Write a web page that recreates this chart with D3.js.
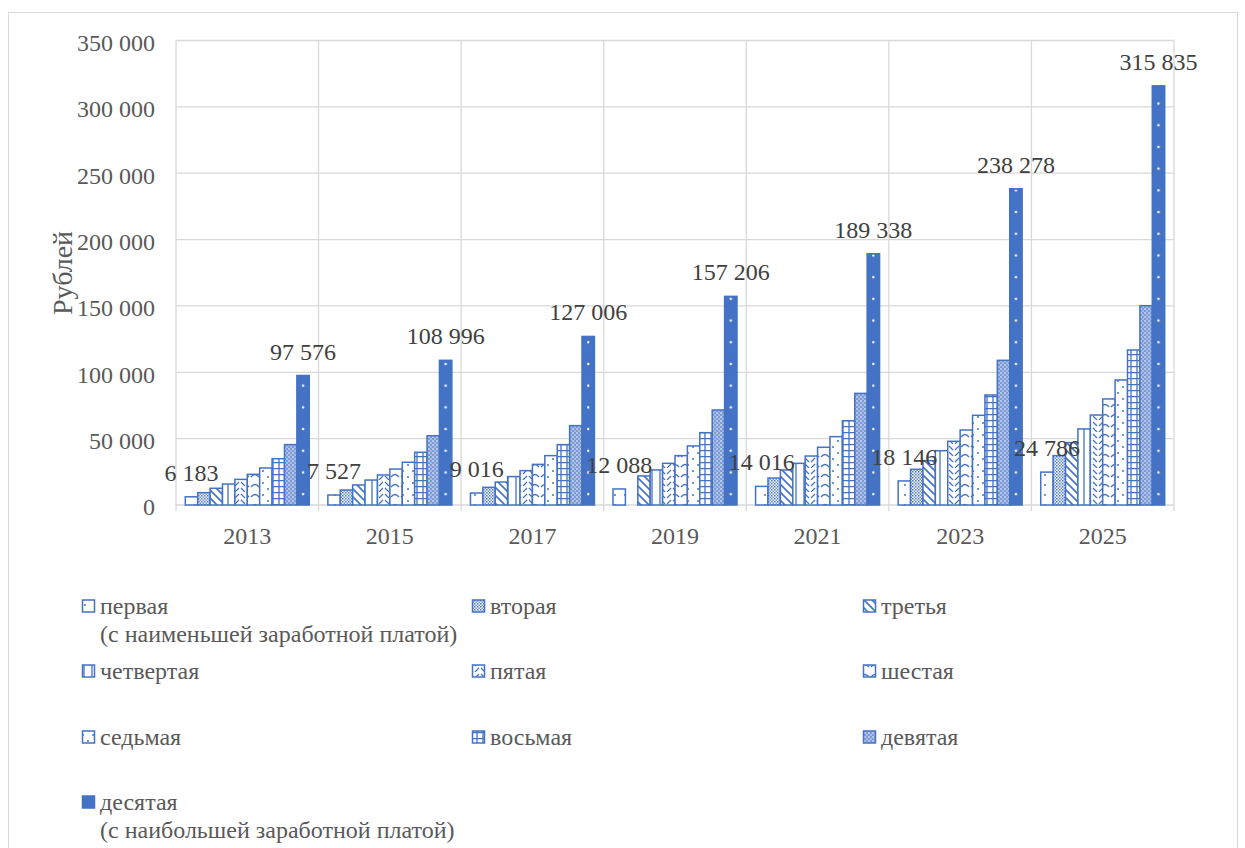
<!DOCTYPE html>
<html><head><meta charset="utf-8">
<script src="https://cdn.jsdelivr.net/npm/d3@7"></script>
<style>body{margin:0;background:#fff}svg{display:block}text{font-family:"Liberation Serif","Times New Roman",serif}</style>
</head><body><svg id="c" width="1245" height="848"></svg>
<script>
const years = ["2013","2015","2017","2019","2021","2023","2025"];
const seriesNames = ["первая","вторая","третья","четвертая","пятая","шестая","седьмая","восьмая","девятая","десятая"];
const dec1  = [6183, 7527, 9016, 12088, 14016, 18146, 24786];
const dec2  = [9300, 11300, 13300, null, 20300, 26900, 37200];
const dec3  = [12600, 15100, 17300, 21900, 26400, 33400, 47000];
const dec4  = [15800, 18800, 21400, 26400, 31400, 40900, 57300];
const dec5  = [19300, 22600, 25900, 31400, 36900, 48000, 67800];
const dec6  = [23100, 27100, 30600, 37200, 43500, 56500, 79900];
const dec7  = [27900, 32200, 37200, 44500, 51500, 67600, 94200];
const dec8  = [34900, 39700, 45500, 54500, 63500, 82900, 116800];
const dec9  = [45500, 52200, 59800, 71600, 84100, 109000, 150200];
const dec10 = [97576, 108996, 127006, 157206, 189338, 238278, 315835];
const seriesValues = [dec1,dec2,dec3,dec4,dec5,dec6,dec7,dec8,dec9,dec10];
const legendExtra = {0:"(с наименьшей заработной платой)", 9:"(с наибольшей заработной платой)"};
const yTicks = [0,50000,100000,150000,200000,250000,300000,350000];

const BLUE = "#4472C4";
const FONT = "'Liberation Serif','Times New Roman',serif";
const svg = d3.select("#c");
svg.append("rect").attr("width",1245).attr("height",848).attr("fill","#fff");
svg.append("rect").attr("x",8.5).attr("y",12.5).attr("width",1229).attr("height",860)
  .attr("fill","none").attr("stroke","#d9d9d9").attr("stroke-width",1);

const L=176, R=1174, T=40.5, B=505;
const x0 = d3.scaleBand().domain(years).range([L,R]).padding(0);
const x1 = d3.scaleBand().domain(d3.range(10)).range([0,x0.bandwidth()]).paddingInner(0).paddingOuter(0.75);
const y = d3.scaleLinear().domain([0,350000]).range([B,T]);
const loc = d3.formatLocale({decimal:",",thousands:"\u00a0",grouping:[3],currency:["",""]});
const fmt = loc.format(",d");

// patterns
const defs = svg.append("defs");
function pat(id,w,h,draw,bg="#fff",ox=0,oy=0){
  const p = defs.append("pattern").attr("id",id).attr("patternUnits","userSpaceOnUse")
    .attr("width",w).attr("height",h).attr("x",ox).attr("y",oy);
  p.append("rect").attr("width",w).attr("height",h).attr("fill",bg);
  draw(p); return p;
}
pat("p0",10,10,p=>p.append("circle").attr("cx",5).attr("cy",5).attr("r",1).attr("fill",BLUE));
pat("p1",3,3,p=>{p.append("rect").attr("width",1.5).attr("height",1.5).attr("fill",BLUE);
  p.append("rect").attr("x",1.5).attr("y",1.5).attr("width",1.5).attr("height",1.5).attr("fill","#6f8fd0");});
pat("p2",8,8,p=>{p.append("path").attr("d","M-2,-2L10,10M-2,6L2,10M6,-2L10,2").attr("stroke",BLUE).attr("stroke-width",1.6);});
pat("p3",8,8,p=>p.append("line").attr("x1",4).attr("x2",4).attr("y1",0).attr("y2",8).attr("stroke",BLUE).attr("stroke-width",1.3));
pat("p4",12,12,p=>p.append("path").attr("d","M1,2L5,6M7,6L11,2M1,8L5,12M7,12L11,8").attr("stroke",BLUE).attr("stroke-width",1.2).attr("fill","none"));
pat("p5",10,10,p=>p.append("path").attr("d","M1,7Q5,2 9,7").attr("stroke",BLUE).attr("stroke-width",1.3).attr("fill","none"));
pat("p6",10,12,p=>{p.append("circle").attr("cx",3).attr("cy",3).attr("r",1).attr("fill",BLUE);
  p.append("circle").attr("cx",8).attr("cy",9).attr("r",1).attr("fill",BLUE);});
pat("p7",6,6,p=>p.append("path").attr("d","M0,0.5H6M3,0V6").attr("stroke",BLUE).attr("stroke-width",1.3));
pat("p8",4,4,p=>{p.append("rect").attr("width",4).attr("height",4).attr("fill","#7c9ad6");
  p.append("circle").attr("cx",1).attr("cy",1).attr("r",0.8).attr("fill","#fff");
  p.append("circle").attr("cx",3).attr("cy",3).attr("r",0.8).attr("fill","#dce4f5");});
pat("p9",x0.bandwidth(),21.7,p=>p.append("circle").attr("cx",x1.bandwidth()/2).attr("cy",10.85).attr("r",1.2).attr("fill","#fff"),
  BLUE, L + x1(9), B % 21.7);

// gridlines
const g = svg.append("g");
g.selectAll("line.h").data(yTicks).join("line").attr("x1",L).attr("x2",R)
  .attr("y1",d=>y(d)).attr("y2",d=>y(d)).attr("stroke","#d9d9d9").attr("stroke-width",1.3);
g.selectAll("line.v").data(years.concat(["end"])).join("line")
  .attr("x1",(d,i)=>L+i*x0.bandwidth()).attr("x2",(d,i)=>L+i*x0.bandwidth())
  .attr("y1",T).attr("y2",B+6).attr("stroke","#d9d9d9").attr("stroke-width",1.3);

// y axis labels
svg.append("g").selectAll("text").data(yTicks).join("text")
  .attr("x",155).attr("y",d=>y(d)+2).attr("dy","0.35em").attr("text-anchor","end")
  .attr("font-family",FONT).attr("font-size",24).attr("fill","#595959").text(d=>fmt(d));
svg.append("text").attr("transform","translate(62,273) rotate(-90)").attr("text-anchor","middle")
  .attr("dy","0.35em").attr("font-family",FONT).attr("font-size",28).attr("fill","#595959").text("Рублей");
// x labels
svg.append("g").selectAll("text").data(years).join("text")
  .attr("x",d=>x0(d)+x0.bandwidth()/2).attr("y",536).attr("dy","0.35em").attr("text-anchor","middle")
  .attr("font-family",FONT).attr("font-size",24).attr("fill","#595959").text(d=>d);

// bars
const bars = svg.append("g");
seriesValues.forEach((vals,si)=>{
  bars.append("g").selectAll("rect").data(years.map((yr,i)=>({yr,v:vals[i]})).filter(d=>d.v!=null)).join("rect")
    .attr("x",d=>x0(d.yr)+x1(si)).attr("width",x1.bandwidth())
    .attr("y",d=>y(d.v)).attr("height",d=>B-y(d.v))
    .attr("fill",`url(#p${si})`).attr("stroke",BLUE).attr("stroke-width",1.5);
});
// data labels for first and last series
[0,9].forEach(si=>{
  svg.append("g").selectAll("text").data(years.map((yr,i)=>({yr,v:seriesValues[si][i]}))).join("text")
    .attr("x",d=>x0(d.yr)+x1(si)+x1.bandwidth()/2).attr("y",d=>y(d.v)-16)
    .attr("text-anchor","middle").attr("font-family",FONT).attr("font-size",24).attr("fill","#404040").text(d=>fmt(d.v));
});

// legend
const colX = [82, 472, 863], rowY = [606, 671, 737, 802];
const lg = svg.append("g");
seriesNames.forEach((n,i)=>{
  const cx = colX[i%3], cy = rowY[Math.floor(i/3)];
  lg.append("rect").attr("x",cx+0.5).attr("y",cy-6).attr("width",12).attr("height",12)
    .attr("fill",`url(#p${i})`).attr("stroke",BLUE).attr("stroke-width",1.5);
  lg.append("text").attr("x",cx+18).attr("y",cy).attr("dy","0.35em")
    .attr("font-family",FONT).attr("font-size",24).attr("fill","#595959").text(n);
  if(legendExtra[i]) lg.append("text").attr("x",cx+18).attr("y",cy+28).attr("dy","0.35em")
    .attr("font-family",FONT).attr("font-size",24).attr("fill","#595959").text(legendExtra[i]);
});
</script></body></html>
